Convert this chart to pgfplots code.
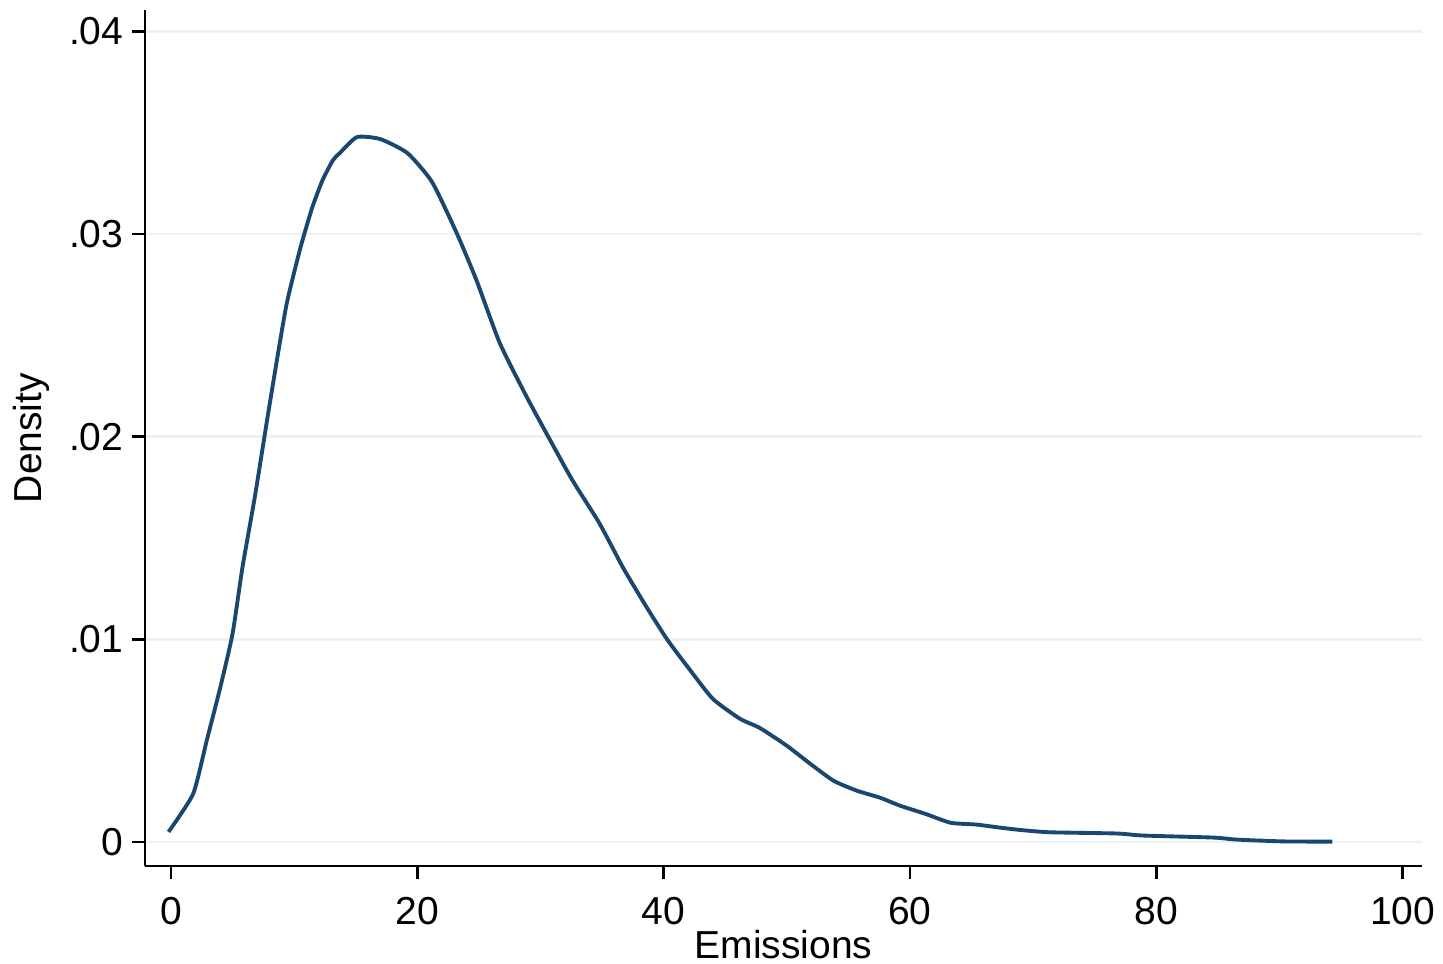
\documentclass[border=0pt]{standalone}
\usepackage{fontspec}
\setmainfont{Liberation Sans}
\usepackage{pgfplots}
\pgfplotsset{compat=1.18}

\definecolor{stnavy}{HTML}{1A476F}
\definecolor{stgrid}{HTML}{EAF2F3}

\begin{document}
\fontsize{11.1pt}{13pt}\selectfont
\begin{tikzpicture}
\useasboundingbox (-1.45cm,-0.97cm) rectangle (12.98cm,8.66cm);
\begin{axis}[
  at={(0,0)}, anchor=south west,
  scale only axis,
  width=12.77cm, height=8.56cm,
  xmin=-2.11, xmax=101.57,
  ymin=-0.001184, ymax=0.04105,
  axis x line*=bottom, axis y line*=left,
  axis line style={black, line width=0.7pt},
  tick align=outside,
  major tick length=0.13cm,
  tick style={black, line width=0.7pt},
  minor tick num=0,
  xtick={0,20,40,60,80,100},
  ytick={0,0.01,0.02,0.03,0.04},
  yticklabels={0,.01,.02,.03,.04},
  scaled y ticks=false,
  /pgf/number format/assume math mode=true,
  xticklabel style={anchor=center, inner sep=0pt, yshift=-0.32cm, font=\fontsize{11.1pt}{13pt}\selectfont},
  yticklabel style={anchor=east, inner sep=0pt, xshift=-0.08cm, font=\fontsize{11.1pt}{13pt}\selectfont},
  ymajorgrids,
  grid style={stgrid, line width=0.8pt},
  xlabel={Emissions},
  ylabel={Density},
  every axis x label/.style={at={(rel axis cs:0.5,0)}, yshift=-0.79cm, anchor=center, inner sep=0pt, font=\fontsize{11.1pt}{13pt}\selectfont},
  every axis y label/.style={at={(rel axis cs:0,0.5)}, xshift=-1.14cm, rotate=90, anchor=center, inner sep=0pt, font=\fontsize{11.1pt}{13pt}\selectfont},
  clip=false,
]
% kernel density estimate of emissions
\addplot[stnavy, line width=1.1pt, line join=round, smooth, tension=0.35] coordinates {
(-0.2,0.00050) (1.8,0.00238) (2.9,0.00500) (4.0,0.00762) (5.0,0.01028)
(5.8,0.01354) (6.8,0.01700) (7.8,0.02081) (8.6,0.02377)
(9.4,0.02658) (10.5,0.02930) (11.45,0.03127) (12.3,0.03265) (13.15,0.03364)
(13.7,0.03399) (15.1,0.03478) (17.0,0.03468) (19.2,0.03399) (21.2,0.03256)
(23.2,0.03004) (24.8,0.02772) (26.7,0.02461) (28.9,0.02194) (30.8,0.01981)
(32.6,0.01784) (34.8,0.01571) (36.7,0.01354) (38.5,0.01170) (40.3,0.00998)
(42.1,0.00852) (44.0,0.00706) (46.2,0.00608) (47.8,0.00563) (50.0,0.00475)
(51.9,0.00386) (53.8,0.00302) (55.7,0.00253) (57.6,0.00218) (59.2,0.00179)
(61.2,0.00140) (63.3,0.00095) (65.4,0.00086) (67.3,0.00071) (69.2,0.00058)
(71.4,0.00048) (76.8,0.00042) (78.9,0.00032) (84.6,0.00022) (86.5,0.00012)
(90.3,0.00003) (94.3,0.00002)
};
\end{axis}
\end{tikzpicture}
\end{document}
